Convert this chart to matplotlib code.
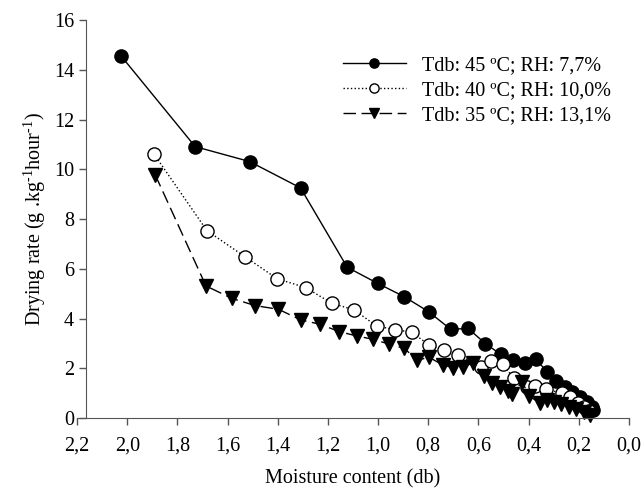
import numpy as np
import matplotlib
matplotlib.use('Agg')
import matplotlib.pyplot as plt

plt.rcParams['font.family'] = ['Liberation Serif', 'DejaVu Serif']
plt.rcParams['mathtext.fontset'] = 'custom'
plt.rcParams['mathtext.rm'] = 'Liberation Serif'

# Datos
x45 = [2.024, 1.729, 1.512, 1.309, 1.123, 1.001, 0.896, 0.798, 0.711, 0.641,
       0.572, 0.511, 0.462, 0.414, 0.371, 0.325, 0.292, 0.255, 0.228, 0.195,
       0.169, 0.149, 0.142]
y45 = [14.55, 10.91, 10.31, 9.25, 6.06, 5.41, 4.88, 4.27, 3.57, 3.60,
       2.99, 2.56, 2.33, 2.23, 2.36, 1.85, 1.48, 1.23, 1.06, 0.86,
       0.66, 0.45, 0.32]

x40 = [1.894, 1.682, 1.530, 1.402, 1.288, 1.184, 1.096, 1.006, 0.932, 0.866,
       0.796, 0.737, 0.683, 0.590, 0.549, 0.503, 0.460, 0.405, 0.375, 0.330,
       0.268, 0.235, 0.202, 0.180, 0.160]
y40 = [10.62, 7.53, 6.48, 5.60, 5.24, 4.61, 4.35, 3.70, 3.55, 3.45,
       2.93, 2.73, 2.55, 2.06, 2.31, 2.18, 1.60, 1.24, 1.29, 1.16,
       1.00, 0.85, 0.60, 0.45, 0.30]

x35 = [1.888, 1.686, 1.583, 1.490, 1.397, 1.307, 1.231, 1.154, 1.085, 1.019,
       0.955, 0.896, 0.843, 0.796, 0.742, 0.700, 0.663, 0.621, 0.579, 0.545,
       0.513, 0.481, 0.466, 0.426, 0.397, 0.355, 0.328, 0.300, 0.270, 0.240,
       0.210, 0.180, 0.155]
y35 = [9.77, 5.31, 4.81, 4.52, 4.37, 3.94, 3.77, 3.47, 3.30, 3.16,
       2.97, 2.80, 2.33, 2.44, 2.13, 2.02, 2.04, 2.22, 1.70, 1.40,
       1.26, 1.10, 0.95, 1.45, 0.89, 0.59, 0.72, 0.65, 0.55, 0.45,
       0.35, 0.25, 0.12]

labels = ['Tdb: 45 ºC; RH: 7,7%', 'Tdb: 40 ºC; RH: 10,0%', 'Tdb: 35 ºC; RH: 13,1%']
xticks = [2.2, 2.0, 1.8, 1.6, 1.4, 1.2, 1.0, 0.8, 0.6, 0.4, 0.2, 0.0]
xtick_labels = ['2,2', '2,0', '1,8', '1,6', '1,4', '1,2', '1,0', '0,8', '0,6', '0,4', '0,2', '0,0']
yticks = [0, 2, 4, 6, 8, 10, 12, 14, 16]

fig = plt.figure(figsize=(6.44, 4.94), dpi=100)
ax = fig.add_axes([0.1196, 0.1538, 0.857, 0.8057])

ax.plot(x45, y45, '-', color='black', lw=1, marker='o', ms=9.5,
        mfc='black', mec='black', label=labels[0], clip_on=False)
ax.plot(x40, y40, ':', color='black', lw=1, marker='o', ms=9.5,
        mfc='white', mec='black', label=labels[1], clip_on=False)
ax.plot(x35, y35, color='black', lw=1, dashes=(9, 4), marker='v', ms=9.5,
        mfc='black', mec='black', label=labels[2], clip_on=False)

ax.set_xlim(2.2, 0.0)
ax.set_ylim(0, 16)
ax.set_xticks(xticks)
ax.set_xticklabels(xtick_labels)
ax.set_yticks(yticks)

ax.spines['top'].set_visible(False)
ax.spines['right'].set_visible(False)
ax.spines['left'].set_position(('data', 2.164))
ax.spines['left'].set_color('#555555')
ax.spines['bottom'].set_color('#555555')
ax.tick_params(direction='out', length=5, width=1, colors='#555555',
               labelcolor='black', labelsize=14.5)
ax.tick_params(axis='x', pad=8)

ax.set_xlabel('Moisture content (db)', fontsize=14.5, labelpad=10)
ax.set_ylabel(r'Drying rate (g .kg$^{\text{-}1}$hour$^{\text{-}1}$)', fontsize=14.5, labelpad=4)

ax.legend(loc='upper right', bbox_to_anchor=(1.0, 0.955), frameon=False,
          fontsize=14.5, handlelength=3.1, markerscale=0.7, labelspacing=0.3)

fig.savefig('out.png', dpi=100)
